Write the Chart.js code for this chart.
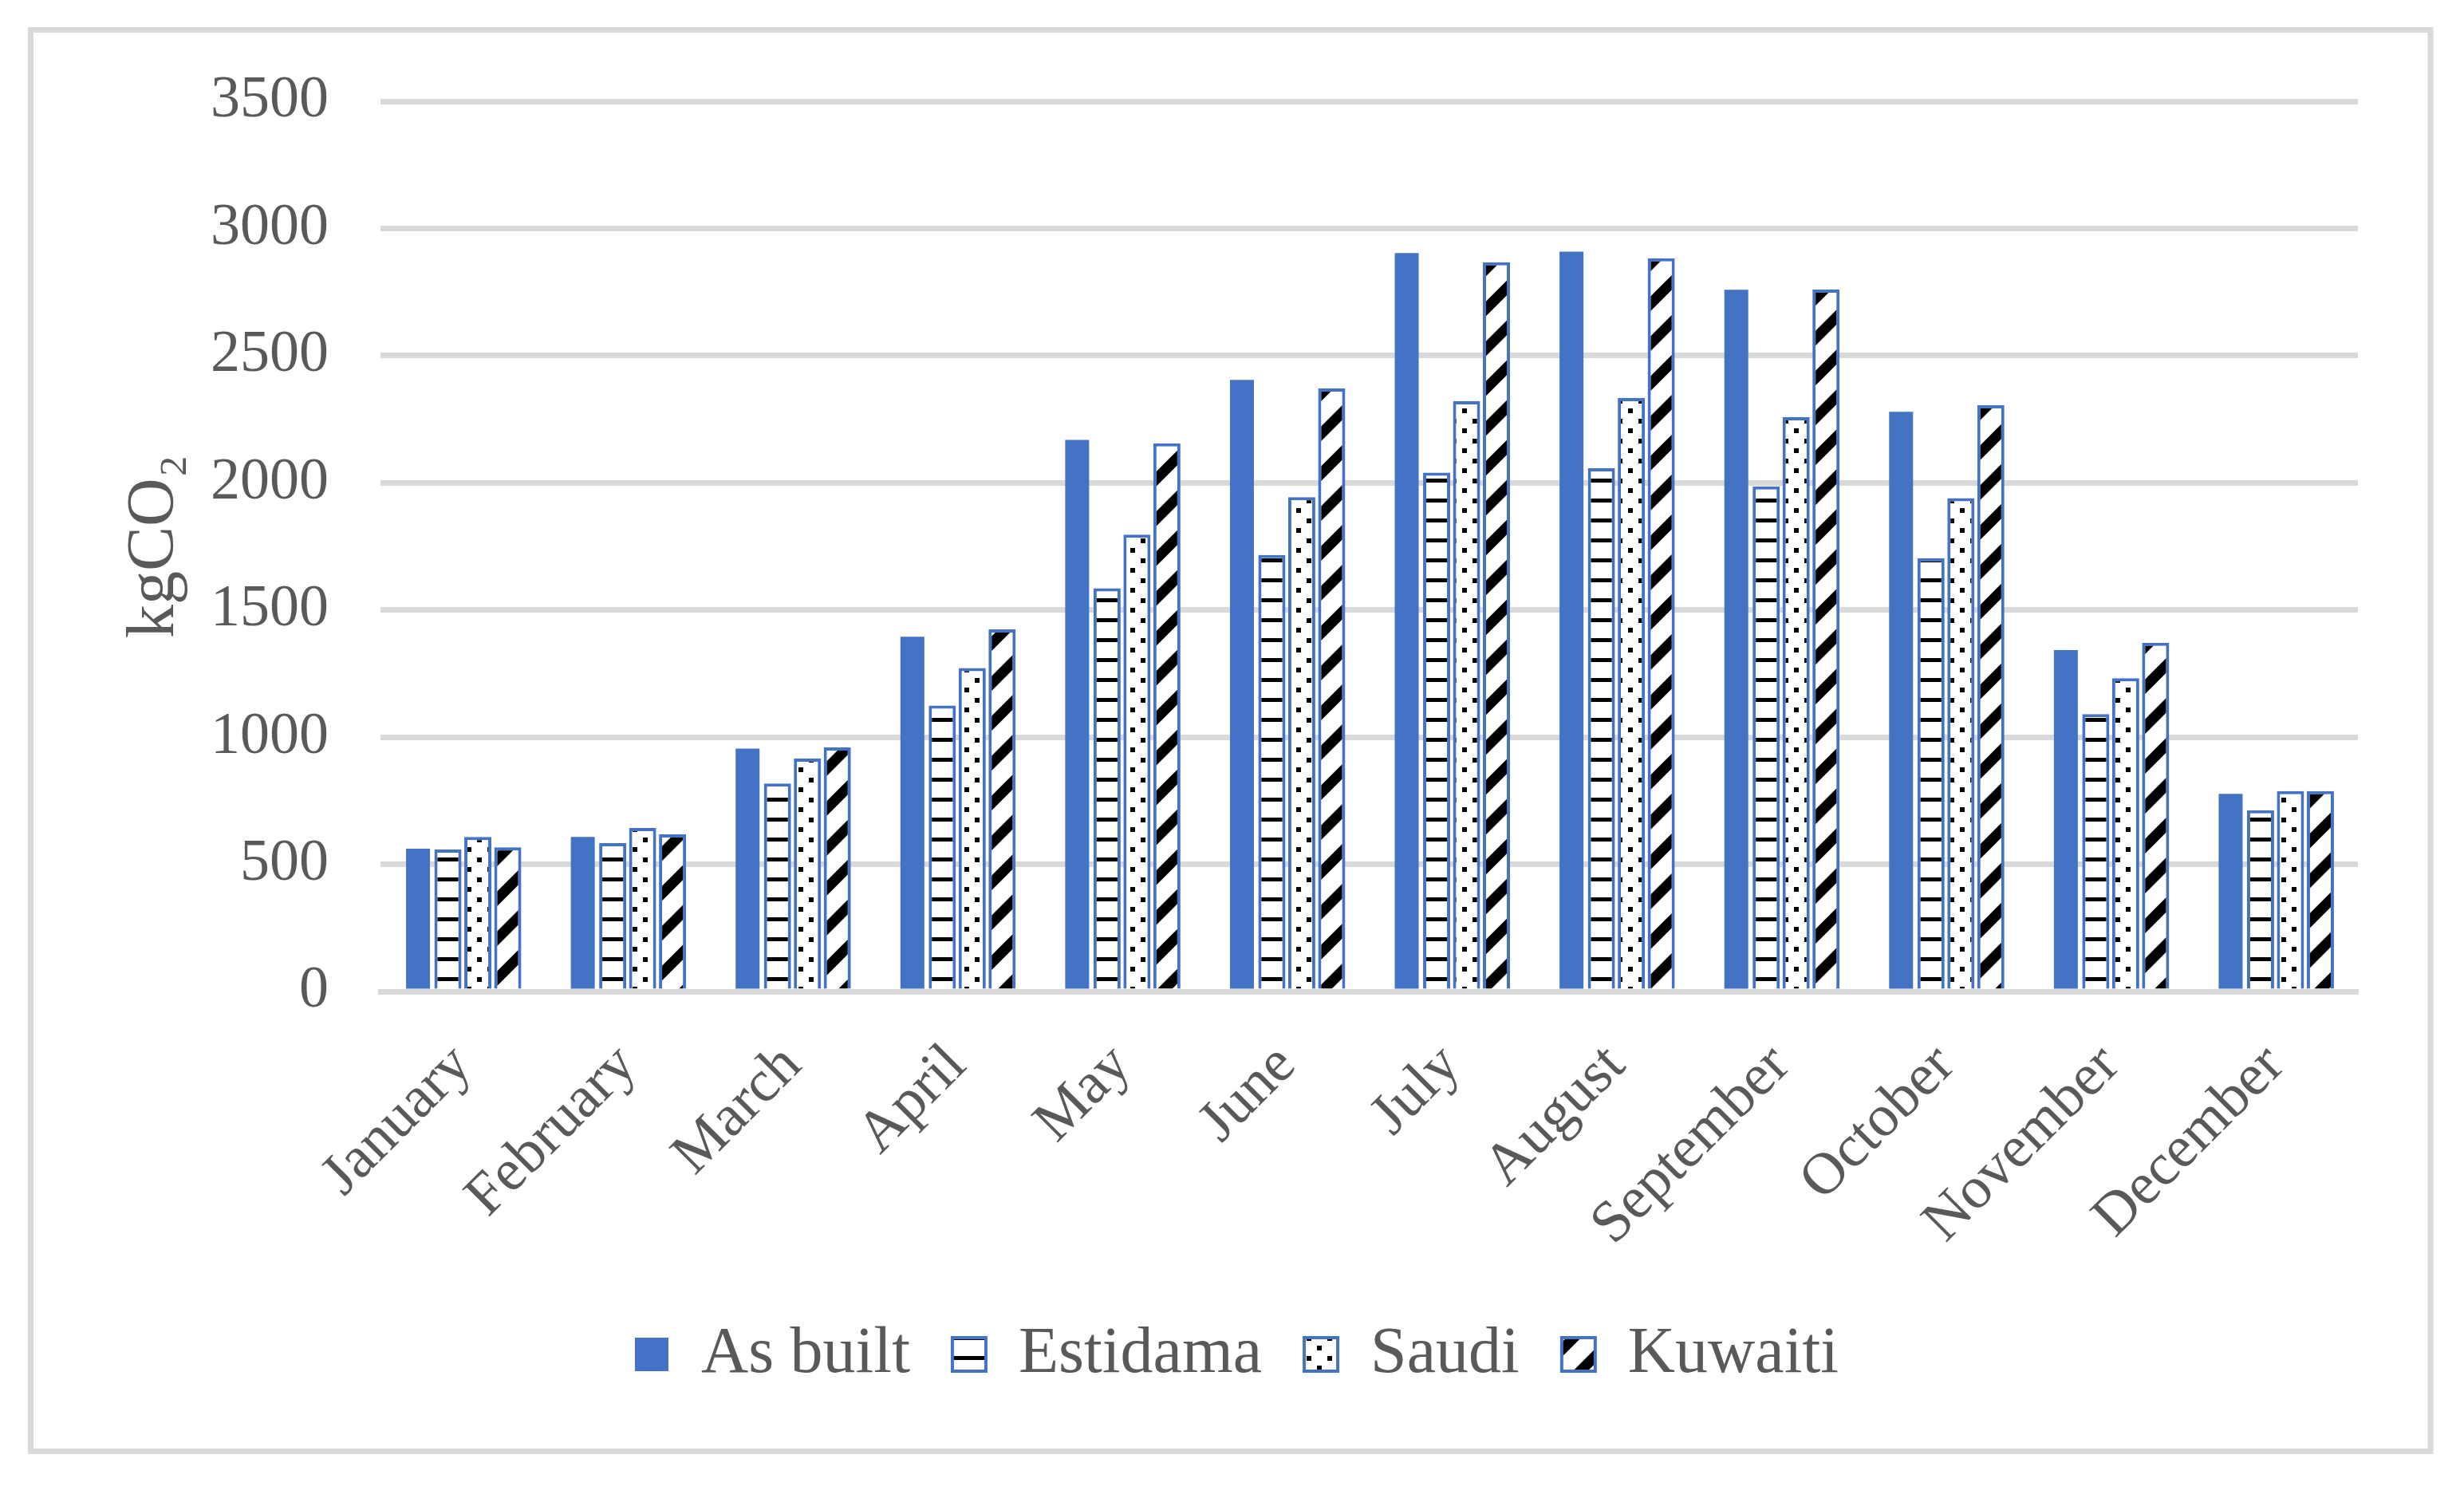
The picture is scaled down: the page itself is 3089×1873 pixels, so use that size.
<!DOCTYPE html>
<html>
<head>
<meta charset="utf-8">
<script src="https://cdn.jsdelivr.net/npm/chart.js@4.4.1/dist/chart.umd.min.js"></script>
<style>
  html, body { margin: 0; padding: 0; background: #ffffff; overflow: hidden; }
  canvas { display: block; background: #ffffff; }
</style>
</head>
<body>
<canvas id="chart" width="3089" height="1873"></canvas>
<script>
// data
const months = ["January", "February", "March", "April", "May", "June",
  "July", "August", "September", "October", "November", "December"];
const asBuilt  = [561, 608, 955, 1395, 2169, 2405, 2903, 2909, 2759, 2279, 1342, 777];
const estidama = [558, 583, 818, 1124, 1585, 1716, 2040, 2057, 1986, 1704, 1091, 713];
const saudi    = [608, 643, 916, 1272, 1796, 1944, 2321, 2333, 2258, 1940, 1232, 788];
const kuwaiti  = [567, 618, 960, 1424, 2155, 2371, 2867, 2883, 2760, 2305, 1371, 788];
const yTicks = [0, 500, 1000, 1500, 2000, 2500, 3000, 3500];

const BLUE = "#4472c4";
const GREY_TEXT = "#595959";
const GRID = "#d9d9d9";
const FONT = "'Liberation Serif', 'Times New Roman', serif";

// fill patterns
function makeTile(w, h, draw) {
  const c = document.createElement("canvas");
  c.width = w; c.height = h;
  const g = c.getContext("2d");
  g.fillStyle = "#ffffff";
  g.fillRect(0, 0, w, h);
  g.fillStyle = "#000000";
  g.strokeStyle = "#000000";
  draw(g, w, h);
  return g.createPattern(c, "repeat");
}

const hStripes = makeTile(25, 25, (g) => {
  g.fillRect(0, 0, 25, 5);
});

const dots = makeTile(26, 25, (g) => {
  g.fillRect(0, 0, 6, 6);
  g.fillRect(13, 12, 6, 6);
});

const diag = makeTile(50, 50, (g, w, h) => {
  g.lineWidth = 13;
  g.beginPath();
  g.moveTo(-5, h + 5); g.lineTo(w + 5, -5);
  g.moveTo(-5, 5); g.lineTo(5, -5);
  g.moveTo(w - 5, h + 5); g.lineTo(w + 5, h - 5);
  g.stroke();
});

// outer frame
const framePlugin = {
  id: "frame",
  beforeDraw(chart) {
    const ctx = chart.ctx;
    ctx.save();
    ctx.fillStyle = "#ffffff";
    ctx.fillRect(0, 0, chart.width, chart.height);
    ctx.strokeStyle = GRID;
    ctx.lineWidth = 7;
    ctx.strokeRect(38.5, 37.5, 3008.5, 1782);
    ctx.restore();
  }
};

const ctx = document.getElementById("chart").getContext("2d");
new Chart(ctx, {
  type: "bar",
  data: {
    labels: months,
    datasets: [
      { label: "As built", data: asBuilt, backgroundColor: BLUE, borderWidth: 0,
        categoryPercentage: 0.726, barPercentage: 0.8 },
      { label: "Estidama", data: estidama, backgroundColor: hStripes, borderColor: BLUE, borderWidth: 4,
        categoryPercentage: 0.726, barPercentage: 0.907 },
      { label: "Saudi", data: saudi, backgroundColor: dots, borderColor: BLUE, borderWidth: 4,
        categoryPercentage: 0.726, barPercentage: 0.907 },
      { label: "Kuwaiti", data: kuwaiti, backgroundColor: diag, borderColor: BLUE, borderWidth: 4,
        categoryPercentage: 0.726, barPercentage: 0.907 }
    ]
  },
  options: {
    responsive: false,
    devicePixelRatio: 1,
    animation: false,
    layout: { padding: { left: 145, right: 133, top: 127, bottom: 124 } },
    plugins: {
      tooltip: { enabled: false },
      legend: {
        position: "bottom",
        labels: {
          boxWidth: 42,
          boxHeight: 42,
          padding: 53,
          color: GREY_TEXT,
          font: { family: FONT, size: 82 }
        }
      }
    },
    scales: {
      x: {
        grid: { display: false },
        border: { display: true, color: GRID, width: 7 },
        ticks: {
          color: GREY_TEXT,
          font: { family: FONT, size: 74 },
          minRotation: 45,
          maxRotation: 45,
          padding: 42
        },
        afterFit(scale) { scale.height = 361; }
      },
      y: {
        min: 0,
        max: 3500,
        afterBuildTicks(scale) { scale.ticks = yTicks.map(v => ({ value: v })); },
        grid: { color: GRID, lineWidth: 7, drawTicks: false },
        border: { display: false },
        ticks: {
          color: GREY_TEXT,
          font: { family: FONT, size: 74 },
          padding: 65,
          callback: (v) => String(v)
        },
        title: {
          display: true,
          text: "kgCO\u2082",
          color: GREY_TEXT,
          font: { family: FONT, size: 84 },
          padding: 0
        },
        afterFit(scale) { scale.width = 332; }
      }
    }
  },
  plugins: [framePlugin]
});
</script>
</body>
</html>
